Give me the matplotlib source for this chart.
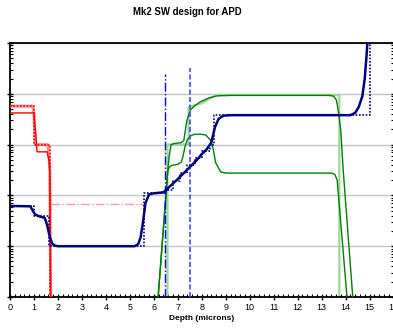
import matplotlib
matplotlib.use("Agg")
import matplotlib.pyplot as plt
from matplotlib.ticker import MultipleLocator, LogLocator, NullFormatter

plt.rcParams['font.family'] = ['Liberation Sans', 'DejaVu Sans']

# ---- data (depth in microns, concentration in cm^-3) ----
red_thick_x = [0, 0.95, 1.0, 1.05, 1.1, 1.58, 1.63, 1.66, 1.70, 1.71]
red_thick_y = [5.7e17, 5.7e17, 4.0e17, 1.15e17, 1.0e17, 1.0e17, 6e16, 3e16, 1e14, 5e13]
red_thin_x = [0, 1.0, 1.08, 1.13, 1.55, 1.62, 1.66, 1.70, 1.71]
red_thin_y = [4.2e17, 4.2e17, 1.5e17, 7.2e16, 7.2e16, 5e16, 3e16, 1e14, 5e13]
red_design_x = [0, 1.02, 1.02, 1.65, 1.65]
red_design_y = [5.7e17, 5.7e17, 1.0e17, 1.0e17, 5e13]
red_dashdot_x = [1.7, 5.6]
red_dashdot_y = [6.7e15, 6.7e15]

navy_x = [0, 0.85, 0.95, 1.05, 1.2, 1.45, 1.55, 1.65, 1.75, 1.85, 2.0, 5.2, 5.35,
          5.45, 5.55, 5.65, 5.8, 6.0, 6.4, 6.6, 7.0, 7.5, 7.8, 8.0, 8.2, 8.4, 8.55,
          8.7, 8.9, 9.2, 14.2, 14.4, 14.55, 14.7, 14.8, 14.88, 14.95]
navy_y = [6.2e15, 6.1e15, 5.0e15, 4.2e15, 3.9e15, 3.6e15, 2.6e15, 1.6e15, 1.15e15,
          1.03e15, 1.0e15, 1.0e15, 1.1e15, 1.5e15, 3e15, 7e15, 1.05e16, 1.1e16,
          1.15e16, 1.4e16, 2.1e16, 3.6e16, 5.0e16, 6.5e16, 8.0e16, 1.1e17, 2.2e17,
          3.2e17, 3.7e17, 3.8e17, 3.8e17, 4.2e17, 5.5e17, 9e17, 2e18, 6e18, 2e19]
navy_design_x = [0, 1.0, 1.0, 1.62, 1.62, 5.58, 5.58, 6.5, 6.5, 6.8, 6.8, 7.1, 7.1,
                 7.4, 7.4, 7.7, 7.7, 8.0, 8.0, 8.35, 8.35, 8.5, 8.5, 15.0, 15.0]
navy_design_y = [6.2e15, 6.2e15, 3.9e15, 3.9e15, 1.0e15, 1.0e15, 1.1e16, 1.1e16,
                 1.3e16, 1.3e16, 1.9e16, 1.9e16, 2.8e16, 2.8e16, 4.0e16, 4.0e16,
                 5.5e16, 5.5e16, 7.5e16, 7.5e16, 1.0e17, 1.0e17, 3.8e17, 3.8e17, 2e19]

green_up_x = [6.13, 6.18, 6.49, 6.58, 6.64, 6.72, 6.85, 7.0, 7.15, 7.25, 7.30, 7.38,
              7.53, 7.7, 7.95, 8.3, 8.65, 9.2, 13.3, 13.5, 13.62, 13.7, 13.8, 13.9,
              14.3, 14.35]
green_up_y = [5e13, 1e14, 8e15, 3e16, 6e16, 1e17, 1.05e17, 1.07e17, 1.1e17, 1.2e17,
              1.7e17, 3e17, 4.8e17, 5.8e17, 7e17, 8.3e17, 9.1e17, 9.3e17, 9.3e17,
              9.0e17, 7.5e17, 4.5e17, 1.9e17, 3.2e16, 1e14, 5e13]
green_lo_x = [6.13, 6.18, 6.49, 6.58, 6.65, 6.75, 7.0, 7.15, 7.22, 7.3, 7.4, 7.55,
              7.7, 7.95, 8.16, 8.37, 8.48, 8.58, 8.79, 9.0, 13.4, 13.55, 13.65,
              14.06, 14.11]
green_lo_y = [5e13, 1e14, 8e15, 3e16, 3.6e16, 3.9e16, 4.1e16, 4.5e16, 6e16, 9e16,
              1.25e17, 1.5e17, 1.6e17, 1.6e17, 1.55e17, 1.23e17, 8e16, 4.4e16,
              2.9e16, 2.75e16, 2.75e16, 2.6e16, 2e16, 1e14, 5e13]
green_design_x = [6.57, 6.57, 7.45, 7.45, 8.0, 8.6, 13.74, 13.74]
green_design_y = [5e13, 1e17, 1e17, 5.5e17, 6.5e17, 9.5e17, 9.5e17, 5e13]

vline_dashdot_x = [6.46, 6.46]
vline_dashdot_y = [5e13, 2.5e18]
vline_dashed_x = [7.53, 7.53]
vline_dashed_y = [5e13, 3.2e18]

xticks = list(range(0, 17))

# ---- figure ----
fig = plt.figure(figsize=(3.93, 3.29), dpi=100)
ax = fig.add_axes([10 / 393, 32 / 329, 383.5 / 393, 254 / 329])
ax.set_yscale('log')
ax.set_xlim(0, 16)
ax.set_ylim(1e14, 1e19)

ax.yaxis.grid(True, which='major', color='#c4c4c4', lw=1.0)
ax.set_axisbelow(True)

ax.plot(green_design_x, green_design_y, color='#9ed69e', lw=1.6, zorder=2)
ax.plot(red_dashdot_x, red_dashdot_y, color='#ff9a9a', lw=1.0, ls='-.', zorder=2)
ax.plot(red_thick_x, red_thick_y, color='#ff6a6a', lw=2.2, alpha=0.75, zorder=3)
ax.plot(red_thin_x, red_thin_y, color='#ff0000', lw=1.0, zorder=3)
ax.plot(red_design_x, red_design_y, color='#ff0000', lw=1.2, ls=(0, (1, 1)), zorder=3)
ax.plot(green_up_x, green_up_y, color='#008000', lw=1.0, zorder=3)
ax.plot(green_lo_x, green_lo_y, color='#008000', lw=1.0, zorder=3)
ax.plot(navy_design_x, navy_design_y, color='#000080', lw=1.2, ls=(0, (1, 1)), zorder=4)
ax.plot(navy_x, navy_y, color='#000080', lw=1.8, zorder=5)
ax.plot(vline_dashdot_x, vline_dashdot_y, color='#0000ff', lw=1.0, ls='-.', zorder=4)
ax.plot(vline_dashed_x, vline_dashed_y, color='#4848ff', lw=1.2, ls=(0, (3, 1.5)), zorder=4)

ax.set_xticks(xticks)
ax.set_xticklabels([str(t) for t in xticks], fontsize=6.5)
ax.xaxis.set_minor_locator(MultipleLocator(0.2))
ax.yaxis.set_major_locator(LogLocator(base=10, numticks=10))
ax.yaxis.set_minor_locator(LogLocator(base=10, subs=range(2, 10), numticks=20))
ax.yaxis.set_major_formatter(NullFormatter())
ax.yaxis.set_minor_formatter(NullFormatter())
ax.tick_params(which='major', direction='inout', length=5, width=1.0, pad=2,
               right=True)
ax.tick_params(which='minor', direction='in', length=2.5, width=0.8, right=True)

for s in ['left', 'bottom', 'top', 'right']:
    ax.spines[s].set_linewidth(1.3)

ax.set_xlabel('Depth (microns)', fontsize=6.0, fontweight='bold', labelpad=2)
fig.text(187.5 / 393, 1 - 12 / 329, 'Mk2 SW design for APD', ha='center', va='center',
         fontsize=6.9, fontweight='bold')

fig.savefig('out.png', dpi=100)
